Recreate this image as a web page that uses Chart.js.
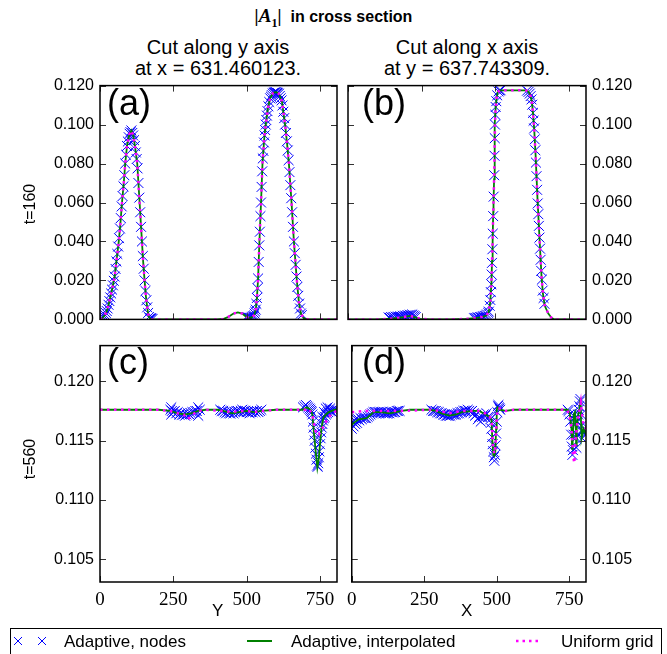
<!DOCTYPE html>
<html>
<head>
<meta charset="utf-8">
<script src="https://cdn.jsdelivr.net/npm/chart.js@4.4.1/dist/chart.umd.min.js"></script>
<style>
  body { margin: 0; width: 667px; height: 654px; position: relative; overflow: hidden; background: #fff;
         font-family: "Liberation Sans", Arial, sans-serif; color: #000; }
  canvas { position: absolute; }
  .t { position: absolute; white-space: nowrap; }
  .sub { font-size: 20px; line-height: 21px; text-align: center; width: 260px; }
  .tag { font-size: 36px; line-height: 36px; }
  .rot { font-size: 16px; transform: rotate(-90deg); transform-origin: center; width: 60px; text-align: center; }
  .leg { font-size: 17px; line-height: 20px; }
</style>
</head>
<body>
<div class="t" style="left:0;top:5px;width:667px;text-align:center;font-size:16px;font-weight:bold;">
  <span style="font-family:'Liberation Serif',serif;font-style:italic;font-size:19px;">|A<sub style="font-style:normal;font-size:12px;">1</sub>|</span>&nbsp; in cross section
</div>
<div class="t sub" style="left:88px;top:37px;">Cut along y axis<br>at x = 631.460123.</div>
<div class="t sub" style="left:337px;top:37px;">Cut along x axis<br>at y = 637.743309.</div>

<canvas id="ca" width="345" height="265" style="left:0;top:70px;"></canvas>
<canvas id="cb" width="327" height="265" style="left:340px;top:70px;"></canvas>
<canvas id="cc" width="345" height="290" style="left:0;top:330px;"></canvas>
<canvas id="cd" width="327" height="290" style="left:340px;top:330px;"></canvas>

<div class="t tag" style="left:107px;top:85px;">(a)</div>
<div class="t tag" style="left:362px;top:85px;">(b)</div>
<div class="t tag" style="left:107px;top:344px;">(c)</div>
<div class="t tag" style="left:362px;top:344px;">(d)</div>

<div class="t rot" style="left:0;top:195px;">t=160</div>
<div class="t rot" style="left:0;top:450px;">t=560</div>
<div class="t" style="left:212px;top:601px;font-size:17px;">Y</div>
<div class="t" style="left:461px;top:601px;font-size:17px;">X</div>

<div class="t" style="left:10px;top:628px;width:650px;height:40px;border:1px solid #000;"></div>
<svg class="t" style="left:0;top:628px;" width="667" height="26">
  <g stroke="#0000ff" stroke-width="1">
    <path d="M14 9 L22 17 M22 9 L14 17"/>
    <path d="M38 9 L46 17 M46 9 L38 17"/>
  </g>
  <line x1="247" y1="13" x2="272" y2="13" stroke="#008000" stroke-width="2"/>
  <line x1="516" y1="13" x2="541" y2="13" stroke="#ff00ff" stroke-width="2.5" stroke-dasharray="2.5 4"/>
</svg>
<div class="t leg" style="left:64px;top:632px;">Adaptive, nodes</div>
<div class="t leg" style="left:291px;top:632px;">Adaptive, interpolated</div>
<div class="t leg" style="left:561px;top:632px;">Uniform grid</div>

<script>
// ---- panel (a): cut along y, t=160 ----
const lineXa = [0,5,10,16,25,33,42,50,57,64,70,75,81,86,92,100,107,114,120,127,131,135,139,143,147,152,157,162,166,172,180,250,330,400,420,440,455,470,485,500,515,525,531,535,539,543,549,554,560,565,572,580,590,600,610,620,631,638,644,653,661,671,678,685,695,710,760,808];
const lineYa = [0,0.0003,0.001,0.002,0.005,0.010,0.016,0.022,0.031,0.040,0.050,0.060,0.070,0.080,0.089,0.095,0.097,0.094,0.088,0.080,0.070,0.060,0.050,0.040,0.030,0.020,0.011,0.005,0.0015,0.0002,0,0,0,0,0.0002,0.0015,0.003,0.0036,0.003,0.0012,0.0008,0.002,0.005,0.011,0.021,0.038,0.060,0.080,0.093,0.100,0.108,0.1135,0.1162,0.1167,0.1158,0.112,0.100,0.090,0.080,0.060,0.040,0.020,0.009,0.003,0.0005,0,0,0];
const nodeXa = [2,5,8,11,14,17,20,23,26,29,32,35,38,41,44,47,50,53,56,59,62,65,68,71,74,77,80,83,86,89,92,95,98,101,104,107,110,113,116,119,122,125,128,131,134,137,140,143,146,149,152,155,158,161,164,167,170,173,176,179,
  498,501,504,507,510,513,516,519,522,525,527,529,531,533,535,537,539,541,543,545,547,549,551,553,555,557,559,561,563,565,567,569,571,574,577,580,583,586,589,592,595,598,601,604,607,610,613,616,619,622,625,628,631,634,637,640,643,646,649,652,655,658,661,664,667,670,673,676,679,682,685,688];
const nodeYa = [0.0001,0.0003,0.0007,0.0012,0.0017,0.0023,0.0033,0.0043,0.0056,0.0075,0.0094,0.0113,0.0133,0.0153,0.0175,0.0198,0.022,0.0259,0.0297,0.0336,0.0374,0.0417,0.0467,0.052,0.058,0.0633,0.0683,0.074,0.080,0.0845,0.089,0.0913,0.0935,0.0953,0.0961,0.097,0.0957,0.0944,0.092,0.089,0.0857,0.0823,0.0775,0.070,0.0625,0.055,0.0475,0.040,0.0325,0.026,0.020,0.0146,0.0098,0.0062,0.0033,0.0012,0.0005,0.0006,0.0004,0.0002,
  0.0011,0.0011,0.0010,0.0009,0.0008,0.0008,0.0009,0.0013,0.0016,0.002,0.003,0.004,0.005,0.008,0.011,0.016,0.021,0.0295,0.038,0.045,0.053,0.060,0.068,0.076,0.0826,0.0865,0.0908,0.0944,0.0972,0.100,0.1023,0.1046,0.1069,0.1094,0.1116,0.1135,0.1143,0.1151,0.1159,0.1163,0.1165,0.1166,0.1166,0.1163,0.1161,0.1158,0.1147,0.1135,0.1124,0.1098,0.1066,0.1033,0.100,0.0957,0.0914,0.0867,0.0817,0.0756,0.0689,0.0622,0.055,0.0475,0.040,0.034,0.028,0.022,0.0167,0.0121,0.0081,0.0056,0.003,0.0022];

// ---- panel (b): cut along x, t=160 ----
const lineXb = [0,100,130,160,190,210,225,245,280,350,400,430,455,470,478,483,487,489,491,493,494,496,497,499,501,504,508,515,530,560,590,605,612,618,624,628,632,637,643,650,657,662,668,680,690,700,808];
const lineYb = [0,0,0.0002,0.0006,0.0012,0.0018,0.0012,0.0003,0,0,0.0002,0.0006,0.0012,0.002,0.004,0.009,0.019,0.030,0.040,0.055,0.060,0.072,0.080,0.100,0.108,0.113,0.1165,0.1176,0.1176,0.1176,0.1176,0.1175,0.1170,0.1155,0.112,0.106,0.098,0.084,0.063,0.042,0.022,0.013,0.007,0.003,0.001,0,0];
const nodeXb = [138,142,146,150,154,158,162,166,170,174,178,182,186,190,194,198,202,206,210,214,218,222,226,230,
  428,432,436,440,444,448,452,456,460,464,468,472,476,
  478,481,483.2,485,486.8,487.8,488.8,490.2,491.5,492.9,494.5,496.3,497.4,498.3,499,500.2,501.4,503.4,506.5,511,514,518,
  608,613,617,620,623,625.5,628,630,632,634,636,638,640,642,644,646,648,650,652,654,656,658,661,664,667];
const nodeYb = [0.0010,0.0008,0.0012,0.0009,0.0013,0.0010,0.0014,0.0011,0.0015,0.0012,0.0016,0.0013,0.0018,0.0015,0.0020,0.0017,0.0022,0.0019,0.0024,0.0021,0.0025,0.0020,0.0016,0.0012,
  0.0006,0.0008,0.0007,0.0010,0.0009,0.0012,0.0011,0.0014,0.0016,0.0018,0.0020,0.0025,0.0033,
  0.004,0.007,0.010,0.014,0.018,0.023,0.029,0.036,0.044,0.053,0.063,0.074,0.084,0.093,0.100,0.105,0.109,0.112,0.115,0.117,0.1175,0.1176,
  0.1174,0.1168,0.1159,0.1146,0.1129,0.1102,0.106,0.102,0.098,0.0924,0.0868,0.0805,0.0735,0.0665,0.0595,0.0540,0.0480,0.042,0.0363,0.0306,0.0249,0.0204,0.0148,0.0110,0.0080];

// ---- panel (c): cut along y, t=560 ----
const lineXc = [0,100,200,240,265,290,310,335,360,400,420,450,475,500,525,550,600,690,705,712,718,724,730,736,741,745,750,755,761,770,780,800,808];
const lineYc = [0.1176,0.1176,0.1176,0.1175,0.1173,0.1172,0.1173,0.1175,0.1176,0.1176,0.1175,0.1173,0.1174,0.1175,0.1174,0.1175,0.1176,0.1176,0.1178,0.1177,0.1176,0.1172,0.1155,0.1139,0.1127,0.1133,0.1147,0.1160,0.1169,0.1172,0.1174,0.1176,0.1176];
const gridXc = [0,200,240,265,285,300,315,335,360,420,450,475,500,525,550,600,700,712,724,731,738,746,755,773,790,808];
const gridYc = [0.1176,0.1176,0.1175,0.1173,0.1172,0.1168,0.1172,0.1175,0.1176,0.1175,0.1174,0.1175,0.1175,0.1174,0.1175,0.1176,0.1176,0.1177,0.1172,0.1162,0.1155,0.1155,0.1159,0.1167,0.1173,0.1175];
const nodeXc = [240,243,243,245,250,255,260,265,270,275,280,285,290,295,300,305,310,315,320,325,330,335,335,340,
  410,415,420,425,430,435,440,445,450,455,460,465,470,475,480,485,490,495,500,505,510,515,520,525,530,535,540,545,550,
  692,697,702,706,710,714,717,720,722,724,726,728,730,732,734,736,738,740,742,744,746,748,750,752,754,756,758,760,763,766,770,774,778,783,788,794,800,806,
  758,764,770,776,784,792];
const nodeYc = [0.1176,0.1178,0.1172,0.1175,0.1174,0.1175,0.1173,0.1174,0.1172,0.1173,0.1172,0.1172,0.1171,0.1172,0.1173,0.1172,0.1173,0.1174,0.1174,0.1175,0.1175,0.1178,0.1171,0.1176,
  0.1176,0.1175,0.1175,0.1174,0.1173,0.1174,0.1173,0.1173,0.1174,0.1173,0.1174,0.1175,0.1175,0.1174,0.1175,0.1176,0.1175,0.1175,0.1174,0.1174,0.1173,0.1174,0.1174,0.1175,0.1174,0.1175,0.1174,0.1175,0.1176,
  0.1178,0.1179,0.1180,0.1179,0.1178,0.1177,0.1176,0.1175,0.1174,0.1172,0.1166,0.1161,0.1155,0.1150,0.1144,0.1139,0.1134,0.1129,0.1128,0.1131,0.1136,0.1141,0.1147,0.1152,0.1157,0.1161,0.1164,0.1167,0.1169,0.1170,0.1172,0.1173,0.1174,0.1175,0.1175,0.1176,0.1176,0.1176,
  0.1170,0.1174,0.1177,0.1178,0.1177,0.1174];

// ---- panel (d): cut along x, t=560 ----
const lineXd = [0,7,24,52,75,100,132,172,200,270,290,310,336,360,380,420,440,461,475,482,485,488,492,495,498,500,503,510,530,560,740,745,752,758,760,762,766,770,773,774,776,780,786,789,791,793,800,808];
const lineYd = [0.1163,0.1165,0.1168,0.1169,0.1174,0.1174,0.1173,0.1175,0.1176,0.1176,0.1175,0.1173,0.1171,0.1172,0.1174,0.1175,0.1175,0.1172,0.1170,0.1168,0.1150,0.1138,0.1137,0.1140,0.1160,0.1176,0.1178,0.1176,0.1175,0.1176,0.1176,0.1176,0.1173,0.1160,0.1143,0.1150,0.1172,0.1174,0.1160,0.1146,0.1160,0.1170,0.1178,0.1186,0.1165,0.1152,0.1160,0.1155];
const gridXd = [0,50,100,170,270,300,336,380,420,440,460,475,483,487,492,496,499,503,512,530,560,740,750,758,764,768,772,778,786,790,795,800,808];
const gridYd = [0.1174,0.1175,0.1175,0.1175,0.1176,0.1175,0.1173,0.1175,0.1175,0.1175,0.1173,0.1171,0.1165,0.1145,0.1139,0.1145,0.1165,0.1177,0.1177,0.1175,0.1176,0.1176,0.1173,0.1160,0.1136,0.1131,0.1150,0.1165,0.1176,0.1182,0.1170,0.1162,0.1160];
const nodeXd = [0,3,6,9,12,15,18,22,26,30,35,40,45,50,55,60,65,70,75,80,85,90,95,100,105,110,115,120,125,130,135,140,145,150,155,160,165,
  275,280,285,290,295,300,305,310,315,320,325,330,335,340,345,350,355,360,365,370,375,380,385,390,395,400,405,410,415,420,425,430,435,440,445,450,455,460,465,470,
  476,478,480,482,484,486,488,490,492,494,496,498,500,502,504,506,508,510,512,
  745,748,751,754,757,759,761,763,765,767,769,771,773,775,777,779,781,783,785,787,789,791,793,795,797,799,801,803,805,807];
const nodeYd = [0.1160,0.1166,0.1162,0.1167,0.1164,0.1168,0.1165,0.1168,0.1167,0.1169,0.1168,0.1169,0.1169,0.1169,0.1170,0.1171,0.1172,0.1173,0.1174,0.1174,0.1174,0.1174,0.1174,0.1174,0.1174,0.1173,0.1173,0.1173,0.1173,0.1173,0.1174,0.1174,0.1174,0.1174,0.1175,0.1175,0.1175,
  0.1176,0.1175,0.1175,0.1175,0.1174,0.1174,0.1173,0.1173,0.1172,0.1172,0.1171,0.1171,0.1171,0.1171,0.1172,0.1172,0.1172,0.1172,0.1173,0.1173,0.1174,0.1174,0.1175,0.1175,0.1175,0.1176,0.1175,0.1174,0.1175,0.1173,0.1171,0.1172,0.1168,0.1170,0.1166,0.1170,0.1172,0.1171,0.1173,0.1170,
  0.1170,0.1168,0.1165,0.1160,0.1153,0.1147,0.1141,0.1136,0.1133,0.1138,0.1146,0.1156,0.1166,0.1174,0.1179,0.1180,0.1178,0.1177,0.1176,
  0.1176,0.1175,0.1172,0.1166,0.1155,0.1145,0.1138,0.1142,0.1155,0.1168,0.1172,0.1165,0.1152,0.1144,0.1155,0.1166,0.1172,0.1176,0.1179,0.1183,0.1185,0.1172,0.1158,0.1152,0.1158,0.1164,0.1160,0.1157,0.1156,0.1155];

const xTicks = [0, 250, 500, 750];

function pts(xs, ys) {
  return xs.map((x, i) => ({ x: x, y: ys[i] }));
}

// box around the plot area and inward tick marks on all four sides
const frame = {
  id: "frame",
  afterDatasetsDraw(chart) {
    const ctx = chart.ctx;
    const a = chart.chartArea;
    const xs = chart.scales.x;
    const ys = chart.scales.y;
    ctx.save();
    ctx.strokeStyle = "#333";
    ctx.lineWidth = 1;
    ctx.beginPath();
    ys.ticks.forEach((t) => {
      const p = Math.round(ys.getPixelForValue(t.value)) + 0.5;
      ctx.moveTo(a.left, p);
      ctx.lineTo(a.left + 6, p);
      ctx.moveTo(a.right, p);
      ctx.lineTo(a.right - 6, p);
    });
    xTicks.forEach((v) => {
      const p = Math.round(xs.getPixelForValue(v)) + 0.5;
      ctx.moveTo(p, a.top);
      ctx.lineTo(p, a.top + 6);
      ctx.moveTo(p, a.bottom);
      ctx.lineTo(p, a.bottom - 6);
    });
    ctx.stroke();
    ctx.strokeStyle = "#000";
    ctx.lineWidth = 1.5;
    ctx.strokeRect(a.left, a.top, a.right - a.left, a.bottom - a.top);
    ctx.restore();
  },
};

function panel(id, d) {
  new Chart(document.getElementById(id), {
    type: "scatter",
    data: {
      datasets: [
        {
          label: "Adaptive, nodes",
          data: pts(d.nx, d.ny),
          pointStyle: "crossRot",
          pointRadius: 7,
          borderColor: "#0000ff",
          borderWidth: 1,
          backgroundColor: "rgba(0,0,0,0)",
          clip: 0,
          order: 2,
        },
        {
          label: "Adaptive, interpolated",
          data: pts(d.lx, d.ly),
          showLine: true,
          borderColor: "#008000",
          borderWidth: 1.8,
          pointRadius: 0,
          tension: 0,
          clip: 0,
          order: 1,
        },
        {
          label: "Uniform grid",
          data: pts(d.gx, d.gy),
          showLine: true,
          borderColor: "#ff00ff",
          borderWidth: 2.5,
          borderDash: [2.5, 4.5],
          pointRadius: 0,
          tension: 0,
          clip: 0,
          order: 0,
        },
      ],
    },
    options: {
      responsive: false,
      animation: false,
      events: [],
      layout: { padding: d.pad },
      plugins: { legend: { display: false }, tooltip: { enabled: false } },
      scales: {
        x: {
          type: "linear",
          min: 0,
          max: 808,
          display: d.showX,
          grid: { display: false, drawTicks: false },
          border: { display: false },
          afterFit: (s) => { s.height = d.showX ? 38 : 0; },
          afterBuildTicks: (s) => { s.ticks = xTicks.map((v) => ({ value: v })); },
          ticks: {
            color: "#000",
            padding: 7,
            maxRotation: 0,
            autoSkip: false,
            font: { family: "'Liberation Serif', serif", size: 19 },
            callback: (v) => String(v),
          },
        },
        y: {
          type: "linear",
          position: d.yPos,
          min: d.yMin,
          max: d.yMax,
          grid: { display: false, drawTicks: false },
          border: { display: false },
          afterFit: (s) => { s.width = d.yW; },
          ticks: {
            stepSize: d.yStep,
            includeBounds: false,
            color: "#000",
            padding: 6,
            font: { family: "'Liberation Sans', Arial, sans-serif", size: 16 },
            callback: (v) => v.toFixed(3),
          },
        },
      },
    },
    plugins: [frame],
  });
}

panel("ca", { lx: lineXa, ly: lineYa, gx: lineXa, gy: lineYa, nx: nodeXa, ny: nodeYa,
  yMin: 0, yMax: 0.12, yStep: 0.02, yPos: "left", yW: 100, showX: false,
  pad: { left: 0, right: 8, top: 13, bottom: 8 } });
panel("cb", { lx: lineXb, ly: lineYb, gx: lineXb, gy: lineYb, nx: nodeXb, ny: nodeYb,
  yMin: 0, yMax: 0.12, yStep: 0.02, yPos: "right", yW: 81, showX: false,
  pad: { left: 8, right: 0, top: 13, bottom: 8 } });
panel("cc", { lx: lineXc, ly: lineYc, gx: gridXc, gy: gridYc, nx: nodeXc, ny: nodeYc,
  yMin: 0.1031, yMax: 0.123, yStep: 0.005, yPos: "left", yW: 100, showX: true,
  pad: { left: 0, right: 8, top: 9, bottom: 0 } });
panel("cd", { lx: lineXd, ly: lineYd, gx: gridXd, gy: gridYd, nx: nodeXd, ny: nodeYd,
  yMin: 0.1031, yMax: 0.123, yStep: 0.005, yPos: "right", yW: 81, showX: true,
  pad: { left: 8, right: 0, top: 9, bottom: 0 } });
</script>
</body>
</html>
